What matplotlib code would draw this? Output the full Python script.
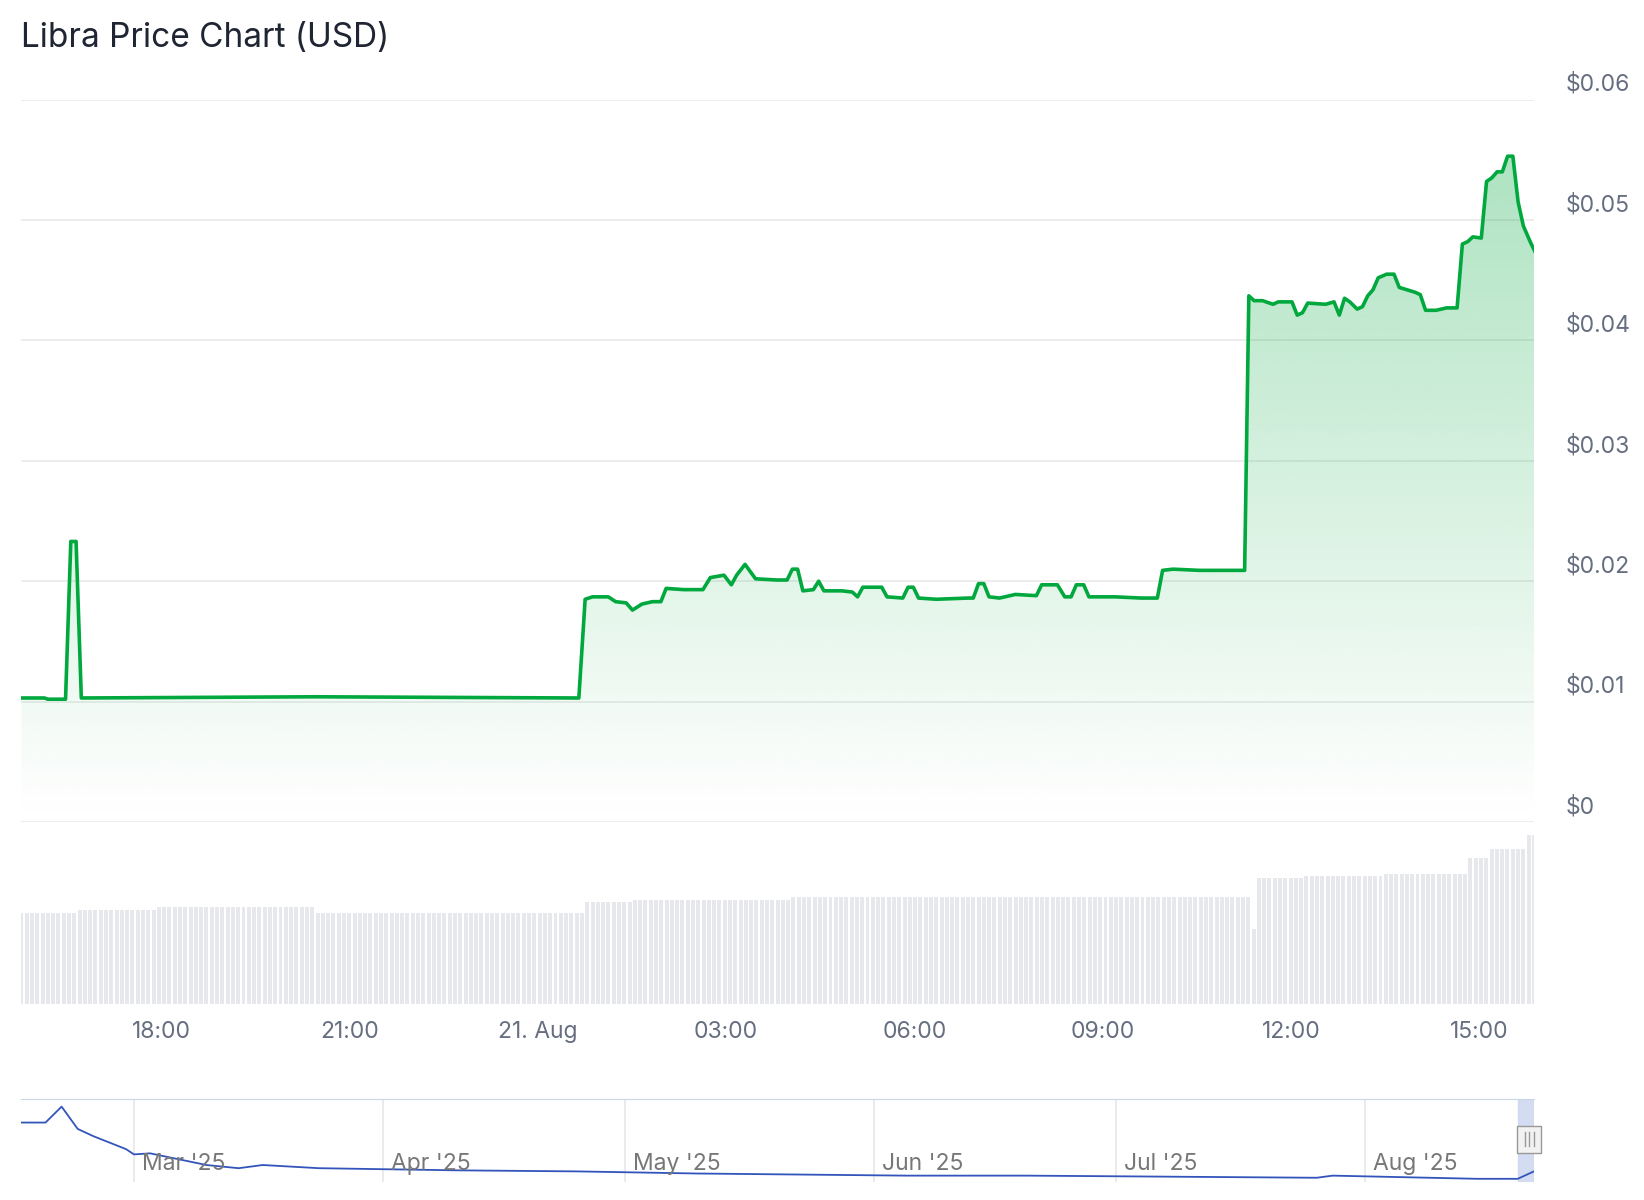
import matplotlib
matplotlib.use("Agg")
import matplotlib.pyplot as plt
import matplotlib.transforms as mtrans
import numpy as np
import pandas as pd

plt.rcParams.update({"font.family": ["Inter", "DejaVu Sans"]})

# ---- data ----
START_HOUR = 15.77          # Aug 20, ~15:46
END_HOUR = 39.87            # Aug 21, ~15:52
price_minutes = [0, 22, 25, 42, 47, 52, 57, 280, 530, 536, 543, 558, 565, 575, 581, 590, 600,
                 608, 613, 630, 648, 655, 668, 675, 680, 688, 698, 718, 728, 733, 738, 743,
                 753, 758, 763, 780, 790, 795, 800, 818, 823, 838, 843, 848, 853, 870, 900,
                 905, 910, 915, 920, 930, 945, 965, 970, 985, 992, 998, 1003, 1010, 1015,
                 1040, 1065, 1080, 1085, 1095, 1120, 1155, 1163, 1167, 1172, 1180, 1190,
                 1195, 1208, 1213, 1218, 1223, 1240, 1248, 1253, 1258, 1263, 1270, 1275,
                 1280, 1285, 1290, 1298, 1305, 1310, 1325, 1330, 1335, 1345, 1355, 1365,
                 1370, 1375, 1380, 1388, 1393, 1398, 1403, 1408, 1413, 1418, 1423, 1428,
                 1435, 1440]
price_usd = [0.0103, 0.0103, 0.0102, 0.0102, 0.0233, 0.0233, 0.0103, 0.0104, 0.0103, 0.0185,
             0.0187, 0.0187, 0.0183, 0.0182, 0.0176, 0.0181, 0.0183, 0.0183, 0.0194, 0.0193,
             0.0193, 0.0203, 0.0205, 0.0197, 0.0205, 0.0214, 0.0202, 0.0201, 0.0201, 0.0210,
             0.0210, 0.0192, 0.0193, 0.0200, 0.0192, 0.0192, 0.0191, 0.0187, 0.0195, 0.0195,
             0.0187, 0.0186, 0.0195, 0.0195, 0.0186, 0.0185, 0.0186, 0.0186, 0.0198, 0.0198,
             0.0187, 0.0186, 0.0189, 0.0188, 0.0197, 0.0197, 0.0187, 0.0187, 0.0197, 0.0197,
             0.0187, 0.0187, 0.0186, 0.0186, 0.0209, 0.0210, 0.0209, 0.0209, 0.0209, 0.0437,
             0.0433, 0.0433, 0.0430, 0.0432, 0.0432, 0.0421, 0.0423, 0.0431, 0.0430, 0.0432,
             0.0421, 0.0435, 0.0432, 0.0426, 0.0428, 0.0437, 0.0442, 0.0452, 0.0455, 0.0455,
             0.0444, 0.0440, 0.0438, 0.0425, 0.0425, 0.0427, 0.0427, 0.0480, 0.0482, 0.0486,
             0.0485, 0.0532, 0.0535, 0.0540, 0.0540, 0.0553, 0.0553, 0.0515, 0.0495, 0.0481,
             0.0472]

# volume: (bars in run, relative level)
vol_counts = [11, 15, 30, 51, 9, 30, 87, 1, 9, 15, 16, 4, 7, 2]
vol_levels = [85, 88, 90, 85, 95, 97, 100, 70, 117, 119, 121, 136, 144, 157]

tick_hours = [18, 21, 24, 27, 30, 33, 36, 39]
tick_labels = ["18:00", "21:00", "21. Aug", "03:00", "06:00", "09:00", "12:00", "15:00"]
y_ticks = [0, 0.01, 0.02, 0.03, 0.04, 0.05, 0.06]

# navigator: long-range history
nav_dates = ["2025-02-15", "2025-02-18", "2025-02-20", "2025-02-22", "2025-02-24",
             "2025-02-28", "2025-03-01", "2025-03-03", "2025-03-10", "2025-03-14",
             "2025-03-17", "2025-03-24", "2025-04-10", "2025-04-25", "2025-05-10",
             "2025-06-05", "2025-06-20", "2025-07-08", "2025-07-26", "2025-07-28",
             "2025-08-15", "2025-08-20", "2025-08-22"]
nav_price = [56, 56, 71, 50, 43, 31, 26, 27, 16, 13, 16, 13, 11, 10, 8, 6, 6, 5, 4, 6, 3, 3, 10]
nav_month_ticks = ["2025-03-01", "2025-04-01", "2025-05-01", "2025-06-01", "2025-07-01", "2025-08-01"]
nav_month_labels = ["Mar '25", "Apr '25", "May '25", "Jun '25", "Jul '25", "Aug '25"]

GREEN = "#00a83e"
TEXT = "#666e80"
LEFT, WIDTH = 0.013, 0.92

fig = plt.figure(figsize=(16.44, 12), dpi=100)
fig.patch.set_facecolor("white")
fig.text(0.013, 0.968, "Libra Price Chart (USD)", fontsize=24, color="#1f2533", va="center")

# ---- price panel ----
ax = fig.add_axes([LEFT, 0.315, WIDTH, 0.602])
t = START_HOUR + np.array(price_minutes) / 60.0 * (180 / 179)
p = np.array(price_usd)
ax.set_xlim(START_HOUR, END_HOUR)
ax.set_ylim(0, 0.06)
for v in y_ticks:
    ax.axhline(v, color="#e8e8e8", lw=1.1, zorder=0)
cmap = matplotlib.colors.LinearSegmentedColormap.from_list(
    "g", [(0, 0.66, 0.24, 0.0), (0, 0.66, 0.24, 1.0)])
img = ax.imshow(np.linspace(0, 0.32, 256).reshape(-1, 1), cmap=cmap,
                vmin=0, vmax=1, aspect="auto", origin="lower",
                extent=[t[0], t[-1], 0, p.max()], zorder=1)
poly = ax.fill_between(t, p, 0, color="none")
img.set_clip_path(poly.get_paths()[0], transform=ax.transData)
ax.plot(t, p, color=GREEN, lw=2.6, zorder=3, solid_joinstyle="round")
for s in ax.spines.values():
    s.set_visible(False)
ax.set_xticks([])
ax.set_yticks([])
tr = mtrans.blended_transform_factory(ax.transAxes, ax.transData)
for v in y_ticks:
    lab = "$0" if v == 0 else f"${v:.2f}"
    ax.text(1.021, v + 0.0003, lab.replace("$", r"\$"), transform=tr, fontsize=16.5,
            color=TEXT, va="bottom", ha="left")

# ---- volume panel ----
axv = fig.add_axes([LEFT, 0.163, WIDTH, 0.141])
vols = np.repeat(vol_levels, vol_counts)
vt = np.linspace(START_HOUR, END_HOUR, len(vols))
width = (vt[1] - vt[0]) * 0.75
axv.bar(vt, vols, width=width, color="#e6e8eb", align="center")
axv.set_xlim(START_HOUR, END_HOUR)
axv.set_ylim(0, 157)
for s in axv.spines.values():
    s.set_visible(False)
axv.set_yticks([])
axv.set_xticks(tick_hours)
axv.set_xticklabels(tick_labels, fontsize=16.5, color=TEXT)
axv.tick_params(axis="x", length=0, pad=12)

# ---- navigator ----
axn = fig.add_axes([LEFT, 0.015, WIDTH, 0.069])
nd = pd.to_datetime(nav_dates)
axn.plot(nd, nav_price, color="#3355bb", lw=1.3)
axn.set_xlim(pd.Timestamp("2025-02-15"), pd.Timestamp("2025-08-22"))
axn.set_ylim(0, 78)
for s in ["left", "right", "bottom"]:
    axn.spines[s].set_visible(False)
axn.spines["top"].set_color("#ccd6eb")
axn.set_yticks([])
axn.set_xticks([])
trn = mtrans.blended_transform_factory(axn.transData, axn.transAxes)
for d, lab in zip(nav_month_ticks, nav_month_labels):
    dd = pd.Timestamp(d)
    axn.axvline(dd, color="#e6e6e6", lw=1.1, zorder=0)
    axn.text(dd + pd.Timedelta(days=1), 0.22, lab, transform=trn, fontsize=16.5,
             color="#777777", va="center", ha="left")
axn.axvspan(pd.Timestamp("2025-08-20"), pd.Timestamp("2025-08-22"),
            color="#c9d4ee", alpha=0.8, zorder=0)
axn.add_patch(plt.Rectangle((0.989, 0.35), 0.016, 0.33, transform=axn.transAxes,
                            facecolor="#f2f2f2", edgecolor="#999999", lw=1, clip_on=False))
for dx in (0.994, 0.997, 1.0):
    axn.plot([dx, dx], [0.43, 0.6], transform=axn.transAxes, color="#999999", lw=1,
             clip_on=False)

fig.savefig("out.png", dpi=100, facecolor="white")
